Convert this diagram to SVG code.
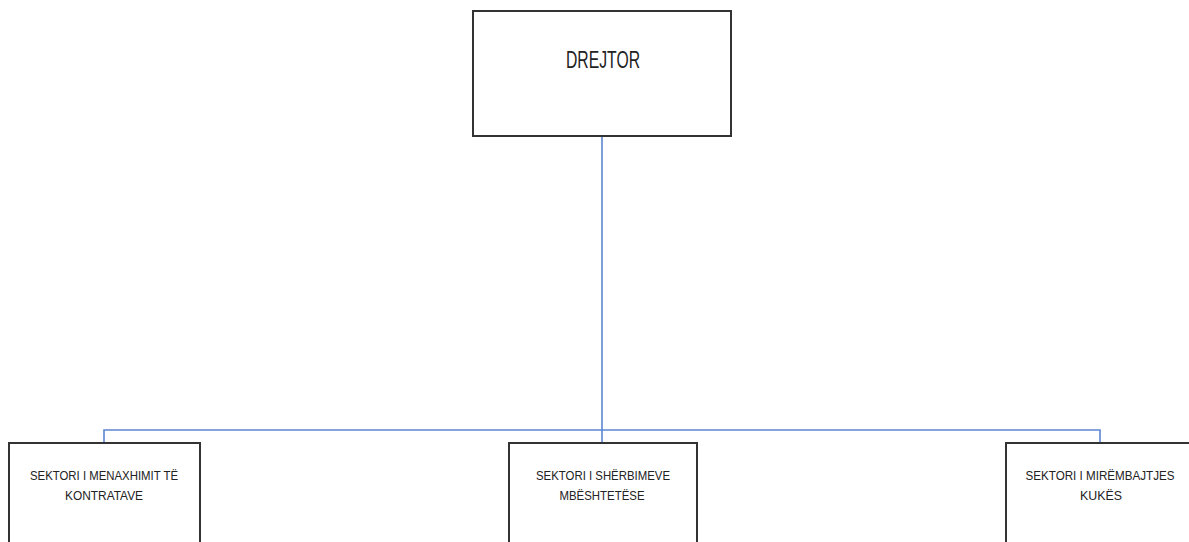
<svg xmlns="http://www.w3.org/2000/svg" width="1189" height="542" viewBox="0 0 1189 542">
<style>
.box{fill:#fff;stroke:#333;stroke-width:2}
.t{font-family:"Liberation Sans",Arial,sans-serif;fill:#222;text-anchor:middle}
.s{font-size:13px}
.c{fill:none;stroke:#5b86d3;stroke-width:1.6}
</style>
<rect width="1189" height="542" fill="#fff"/>
<g id="connectors">
<line class="c" x1="602" y1="136" x2="602" y2="430"/>
<polyline class="c" points="104,443 104,430 1100,430 1100,443"/>
<line class="c" x1="602" y1="430" x2="602" y2="443"/>
</g>
<g id="drejtor">
<rect class="box" x="473" y="11" width="258" height="125"/>
<text class="t" x="603" y="68" font-size="24" textLength="74" lengthAdjust="spacingAndGlyphs">DREJTOR</text>
</g>
<g id="sektori-menaxhimit">
<rect class="box" x="9" y="443" width="191" height="110"/>
<text class="t s" x="104" y="480" textLength="148" lengthAdjust="spacingAndGlyphs">SEKTORI I MENAXHIMIT TË</text>
<text class="t s" x="104" y="500" textLength="78" lengthAdjust="spacingAndGlyphs">KONTRATAVE</text>
</g>
<g id="sektori-sherbimeve">
<rect class="box" x="509" y="443" width="188" height="110"/>
<text class="t s" x="603" y="480" textLength="134" lengthAdjust="spacingAndGlyphs">SEKTORI I SHËRBIMEVE</text>
<text class="t s" x="602" y="500" textLength="85" lengthAdjust="spacingAndGlyphs">MBËSHTETËSE</text>
</g>
<g id="sektori-mirembajtjes">
<rect class="box" x="1006" y="443" width="200" height="110"/>
<text class="t s" x="1100" y="480" textLength="149" lengthAdjust="spacingAndGlyphs">SEKTORI I MIRËMBAJTJES</text>
<text class="t s" x="1101" y="500" textLength="42" lengthAdjust="spacingAndGlyphs">KUKËS</text>
</g>
</svg>
